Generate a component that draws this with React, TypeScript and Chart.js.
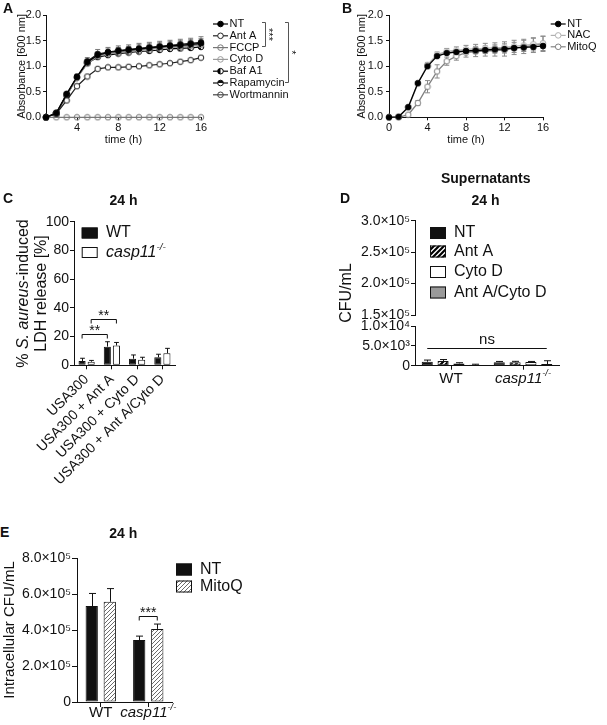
import React, { useEffect, useRef } from 'react';
import { Chart, registerables } from 'chart.js';

Chart.register(...registerables);

const FONT = "'Liberation Sans', Arial, Helvetica, sans-serif";
const INK = '#111111';

/* ---------------- Panel A data ---------------- */
const hoursA = [1, 2, 3, 4, 5, 6, 7, 8, 9, 10, 11, 12, 13, 14, 15, 16];
const timeTicksA = [4, 8, 12, 16];
const absTicks = [0, 0.5, 1, 1.5, 2];
const aNames = ['NT', 'Ant A', 'FCCP', 'Cyto D', 'Baf A1', 'Rapamycin', 'Wortmannin'];
const aNT = [0, 0.08, 0.45, 0.79, 1.08, 1.22, 1.27, 1.3, 1.32, 1.34, 1.36, 1.38, 1.4, 1.41, 1.43, 1.45];
const aAntA = [0, 0.07, 0.33, 0.61, 0.8, 0.95, 0.98, 0.98, 0.99, 1.0, 1.02, 1.04, 1.06, 1.09, 1.12, 1.17];
const aFCCP = [0, 0, 0, 0, 0, 0, 0, 0, 0, 0, 0, 0, 0, 0, 0, 0];
const aCytoD = [0, 0.07, 0.42, 0.77, 1.05, 1.2, 1.24, 1.27, 1.29, 1.31, 1.33, 1.35, 1.37, 1.38, 1.4, 1.42];
const aBafA1 = [0, 0.08, 0.43, 0.78, 1.06, 1.18, 1.22, 1.25, 1.27, 1.29, 1.3, 1.32, 1.34, 1.35, 1.36, 1.38];
const aRapamycin = [0, 0.09, 0.46, 0.8, 1.1, 1.24, 1.28, 1.31, 1.33, 1.35, 1.37, 1.39, 1.41, 1.43, 1.45, 1.47];
const aWortmannin = [0, 0.08, 0.44, 0.78, 1.07, 1.21, 1.25, 1.28, 1.3, 1.32, 1.34, 1.36, 1.38, 1.39, 1.41, 1.43];
const aErrNT = [0, 0.01, 0.02, 0.03, 0.05, 0.06, 0.07, 0.07, 0.07, 0.08, 0.08, 0.08, 0.08, 0.09, 0.09, 0.09];
const aErrAntA = [0, 0.01, 0.02, 0.02, 0.02, 0.02, 0.02, 0.02, 0.02, 0.02, 0.02, 0.02, 0.02, 0.02, 0.02, 0.03];
const aErrCytoD = [0, 0.01, 0.02, 0.03, 0.04, 0.05, 0.05, 0.05, 0.05, 0.06, 0.06, 0.06, 0.06, 0.06, 0.06, 0.07];
const aErrBafA1 = [0, 0.01, 0.02, 0.03, 0.04, 0.04, 0.05, 0.05, 0.05, 0.05, 0.05, 0.05, 0.05, 0.06, 0.06, 0.06];
const aErrRapamycin = [0, 0.01, 0.03, 0.03, 0.07, 0.09, 0.09, 0.09, 0.09, 0.1, 0.1, 0.1, 0.1, 0.1, 0.1, 0.11];
const aErrWortmannin = [0, 0.01, 0.02, 0.03, 0.05, 0.06, 0.06, 0.06, 0.07, 0.07, 0.07, 0.07, 0.07, 0.08, 0.08, 0.08];

/* ---------------- Panel B data ---------------- */
const hoursB = [0, 1, 2, 3, 4, 5, 6, 7, 8, 9, 10, 11, 12, 13, 14, 15, 16];
const timeTicksB = [0, 4, 8, 12, 16];
const bNames = ['NT', 'NAC', 'MitoQ'];
const bNT = [0, 0.01, 0.2, 0.67, 1.0, 1.2, 1.26, 1.28, 1.3, 1.31, 1.32, 1.33, 1.34, 1.36, 1.37, 1.38, 1.4];
const bNAC = [0, 0.01, 0.19, 0.66, 1.03, 1.23, 1.29, 1.31, 1.33, 1.34, 1.35, 1.36, 1.37, 1.39, 1.41, 1.43, 1.45];
const bMitoQ = [0, 0, 0.05, 0.28, 0.6, 0.9, 1.1, 1.2, 1.27, 1.29, 1.3, 1.31, 1.32, 1.35, 1.38, 1.41, 1.44];
const bErrNT = [0, 0, 0.01, 0.02, 0.03, 0.03, 0.03, 0.04, 0.04, 0.04, 0.04, 0.04, 0.05, 0.05, 0.05, 0.05, 0.05];
const bErrNAC = [0, 0, 0.02, 0.03, 0.04, 0.05, 0.06, 0.07, 0.08, 0.09, 0.1, 0.1, 0.11, 0.12, 0.12, 0.13, 0.14];
const bErrMitoQ = [0, 0.01, 0.02, 0.05, 0.12, 0.13, 0.08, 0.08, 0.09, 0.1, 0.1, 0.11, 0.12, 0.12, 0.13, 0.14, 0.15];

/* ---------------- Panel C data ---------------- */
const cGroups = ['USA300', 'USA300 + Ant A', 'USA300 + Cyto D', 'USA300 + Ant A/Cyto D'];
const cTicks = [0, 20, 40, 60, 80, 100];
const cWT = [3.0, 13.0, 4.6, 5.6];
const cWTErr = [1.9, 3.4, 2.6, 2.1];
const cCasp = [2.5, 13.8, 3.9, 8.4];
const cCaspErr = [0.9, 2.1, 1.7, 3.4];
const cSigWT = 21.8;
const cSigCasp = 32;

/* ---------------- Panel D data ---------------- */
const dGroups = ['WT', 'casp11-/-'];
const dNT = [1000, 900];
const dNTErr = [420, 170];
const dAntA = [1200, 900];
const dAntAErr = [350, 200];
const dCytoD = [580, 950];
const dCytoDErr = [170, 120];
const dAntACytoD = [250, 420];
const dAntACytoDErr = [120, 830];
const dUpperTicks = [150000, 200000, 250000, 300000];
const dUpperTickLabels = ['1.5×10⁵', '2.0×10⁵', '2.5×10⁵', '3.0×10⁵'];
const dLowerTicks = [0, 5000, 10000];
const dLowerTickLabels = ['0', '5.0×10³', '1.0×10⁴'];
const dNsLevel = 4500;

/* ---------------- Panel E data ---------------- */
const eGroups = ['WT', 'casp11-/-'];
const eNT = [533000, 344000];
const eNTErr = [70000, 22000];
const eMitoQ = [557000, 406000];
const eMitoQErr = [73000, 27000];
const eTicks = [0, 200000, 400000, 600000, 800000];
const eTickLabels = ['0', '2.0×10⁵', '4.0×10⁵', '6.0×10⁵', '8.0×10⁵'];
const eSigLevel = 478000;

/* ---------------- styles ---------------- */
type MK = 'filled' | 'open' | 'through' | 'halfLeft' | 'halfTop';
const aLook: { kind: MK; color: string }[] = [
  { kind: 'filled', color: '#000000' },
  { kind: 'open', color: '#222222' },
  { kind: 'through', color: '#777777' },
  { kind: 'through', color: '#9a9a9a' },
  { kind: 'halfLeft', color: '#000000' },
  { kind: 'halfTop', color: '#111111' },
  { kind: 'through', color: '#444444' },
];
const bLook: { kind: MK; color: string }[] = [
  { kind: 'filled', color: '#000000' },
  { kind: 'open', color: '#b0b0b0' },
  { kind: 'open', color: '#808080' },
];

type Seg = { t: string; it?: boolean; sup?: boolean; bold?: boolean };

function fontStr(size: number, it?: boolean, bold?: boolean) {
  return `${it ? 'italic ' : ''}${bold ? 'bold ' : ''}${size}px ${FONT}`;
}

function drawRich(ctx: CanvasRenderingContext2D, segs: Seg[], x: number, y: number, size: number, align: 'left' | 'center' | 'right', color = INK) {
  ctx.save();
  ctx.fillStyle = color;
  ctx.textBaseline = 'middle';
  ctx.textAlign = 'left';
  const widths = segs.map((s) => {
    ctx.font = fontStr(s.sup ? size * 0.62 : size, s.it, s.bold);
    return ctx.measureText(s.t).width;
  });
  const total = widths.reduce((a, b) => a + b, 0);
  let cx = align === 'center' ? x - total / 2 : align === 'right' ? x - total : x;
  segs.forEach((s, k) => {
    ctx.font = fontStr(s.sup ? size * 0.62 : size, s.it, s.bold);
    ctx.fillText(s.t, cx, s.sup ? y - size * 0.34 : y);
    cx += widths[k];
  });
  ctx.restore();
}

function labelSegs(label: string): Seg[] {
  if (label.startsWith('casp11')) return [{ t: 'casp11', it: true }, { t: '-/-', it: true, sup: true }];
  return [{ t: label }];
}

function drawMarker(ctx: CanvasRenderingContext2D, kind: MK, x: number, y: number, r: number, color: string) {
  ctx.save();
  ctx.lineWidth = 1;
  ctx.strokeStyle = color;
  const circle = () => {
    ctx.beginPath();
    ctx.arc(x, y, r, 0, Math.PI * 2);
  };
  if (kind === 'filled') {
    circle(); ctx.fillStyle = color; ctx.fill(); ctx.stroke();
  } else if (kind === 'open') {
    circle(); ctx.fillStyle = '#ffffff'; ctx.fill(); ctx.stroke();
  } else if (kind === 'through') {
    circle(); ctx.stroke();
  } else {
    circle(); ctx.fillStyle = '#ffffff'; ctx.fill();
    ctx.beginPath();
    if (kind === 'halfLeft') ctx.arc(x, y, r, Math.PI / 2, Math.PI * 1.5);
    else ctx.arc(x, y, r, Math.PI, Math.PI * 2);
    ctx.closePath(); ctx.fillStyle = color; ctx.fill();
    circle(); ctx.stroke();
  }
  ctx.restore();
}

function markerImg(kind: MK, color: string, r: number) {
  const s = Math.ceil(r * 2 + 2);
  const c = document.createElement('canvas');
  c.width = s; c.height = s;
  drawMarker(c.getContext('2d')!, kind, s / 2, s / 2, r, color);
  return c;
}

function stripes(bg: string, fg: string, size: number, lw: number) {
  const c = document.createElement('canvas');
  c.width = size; c.height = size;
  const g = c.getContext('2d')!;
  g.fillStyle = bg; g.fillRect(0, 0, size, size);
  g.strokeStyle = fg; g.lineWidth = lw;
  g.beginPath();
  g.moveTo(-1, size + 1); g.lineTo(size + 1, -1);
  g.moveTo(-size / 2 - 1, size / 2 + 1); g.lineTo(size / 2 + 1, -size / 2 - 1);
  g.moveTo(size / 2 - 1, size * 1.5 + 1); g.lineTo(size * 1.5 + 1, size / 2 - 1);
  g.stroke();
  return g.createPattern(c, 'repeat')!;
}

const fitW = (w: number) => (s: any) => { s.width = w; s.paddingTop = 0; s.paddingBottom = 0; s.paddingLeft = 0; s.paddingRight = 0; };
const fitH = (h: number) => (s: any) => { s.height = h; s.paddingTop = 0; s.paddingBottom = 0; s.paddingLeft = 0; s.paddingRight = 0; };
const setTicks = (vals: number[]) => (s: any) => { s.ticks = vals.map((v) => ({ value: v })); };

function axisStyle(size: number, tick: number, pad: number) {
  return {
    border: { display: true, color: INK, width: 1 },
    grid: { display: true, drawOnChartArea: false, drawTicks: true, tickLength: tick, tickColor: INK, tickWidth: 1, color: INK },
    ticks: { color: INK, padding: pad, font: { family: FONT, size } },
  };
}

function lineErrPlugin(errs: (number[] | null)[], color: string, both: boolean, id: string) {
  return {
    id,
    beforeDatasetsDraw(chart: any) {
      const ctx = chart.ctx as CanvasRenderingContext2D;
      const ys = chart.scales.y;
      ctx.save();
      ctx.strokeStyle = color;
      ctx.lineWidth = 1;
      chart.data.datasets.forEach((ds: any, i: number) => {
        const e = errs[i];
        if (!e) return;
        chart.getDatasetMeta(i).data.forEach((pt: any, j: number) => {
          const err = e[j];
          if (!err) return;
          const v = ds.data[j].y;
          const x = pt.x;
          const top = ys.getPixelForValue(v + err);
          const bot = both ? ys.getPixelForValue(v - err) : pt.y;
          ctx.beginPath();
          ctx.moveTo(x, bot); ctx.lineTo(x, top);
          ctx.moveTo(x - 2.5, top); ctx.lineTo(x + 2.5, top);
          if (both) { ctx.moveTo(x - 2.5, bot); ctx.lineTo(x + 2.5, bot); }
          ctx.stroke();
        });
      });
      ctx.restore();
    },
  };
}

function barErrPlugin(errs: number[][], id: string) {
  return {
    id,
    afterDatasetsDraw(chart: any) {
      const ctx = chart.ctx as CanvasRenderingContext2D;
      const ys = chart.scales.y;
      ctx.save();
      ctx.strokeStyle = INK;
      ctx.lineWidth = 1;
      errs.forEach((e, i) => {
        chart.getDatasetMeta(i).data.forEach((bar: any, j: number) => {
          const v = chart.data.datasets[i].data[j];
          const top = ys.getPixelForValue(v + e[j]);
          const cap = Math.min(3.5, bar.width / 3);
          const x = Math.round(bar.x) + 0.5;
          ctx.beginPath();
          ctx.moveTo(x, bar.y); ctx.lineTo(x, top);
          ctx.moveTo(x - cap, top); ctx.lineTo(x + cap, top);
          ctx.stroke();
        });
      });
      ctx.restore();
    },
  };
}

function lineLegend(ctx: CanvasRenderingContext2D, chart: any, looks: { kind: MK; color: string }[], x0: number, y0: number, dy: number, size: number) {
  chart.data.datasets.forEach((ds: any, k: number) => {
    const y = y0 + k * dy;
    const lk = looks[k];
    ctx.save();
    ctx.strokeStyle = lk.color; ctx.lineWidth = 1.2;
    ctx.beginPath(); ctx.moveTo(x0, y); ctx.lineTo(x0 + 15, y); ctx.stroke();
    ctx.restore();
    drawMarker(ctx, lk.kind, x0 + 7.5, y, 2.8, lk.color);
    drawRich(ctx, [{ t: ds.label }], x0 + 16.5, y, size, 'left');
  });
}

function boxLegend(ctx: CanvasRenderingContext2D, chart: any, x: number, ys: number[], w: number, h: number, textX: number, size: number) {
  chart.data.datasets.forEach((ds: any, k: number) => {
    const y = ys[k];
    ctx.save();
    ctx.fillStyle = ds.backgroundColor;
    ctx.fillRect(x, y - h / 2, w, h);
    ctx.strokeStyle = INK; ctx.lineWidth = 1;
    ctx.strokeRect(x + 0.5, y - h / 2 + 0.5, w - 1, h - 1);
    ctx.restore();
    drawRich(ctx, labelSegs(ds.label), textX, y, size, 'left');
  });
}

function bracket(ctx: CanvasRenderingContext2D, x1: number, x2: number, y: number, drop: number, label: string, size: number) {
  ctx.save();
  ctx.strokeStyle = INK; ctx.lineWidth = 1;
  const yy = Math.round(y) + 0.5;
  ctx.beginPath();
  ctx.moveTo(x1, yy + drop); ctx.lineTo(x1, yy); ctx.lineTo(x2, yy); ctx.lineTo(x2, yy + drop);
  ctx.stroke();
  ctx.restore();
  drawRich(ctx, [{ t: label }], (x1 + x2) / 2, yy - 3, size, 'center');
}

const baseOpts = {
  responsive: false,
  animation: false as const,
  events: [] as any[],
  plugins: { legend: { display: false }, tooltip: { enabled: false } },
};

const Txt = (p: { x: number; base: number; size: number; bold?: boolean; center?: boolean; children: React.ReactNode }) => (
  <div
    style={{
      position: 'absolute',
      left: p.center ? p.x - 150 : p.x,
      width: p.center ? 300 : undefined,
      top: p.base - 0.8465 * p.size,
      fontSize: p.size,
      lineHeight: `${p.size}px`,
      fontWeight: p.bold ? 700 : 400,
      fontFamily: FONT,
      textAlign: p.center ? 'center' : 'left',
      whiteSpace: 'nowrap',
      color: INK,
    }}
  >
    {p.children}
  </div>
);

export default function App() {
  const rA = useRef<HTMLCanvasElement>(null);
  const rB = useRef<HTMLCanvasElement>(null);
  const rC = useRef<HTMLCanvasElement>(null);
  const rDu = useRef<HTMLCanvasElement>(null);
  const rDl = useRef<HTMLCanvasElement>(null);
  const rE = useRef<HTMLCanvasElement>(null);

  useEffect(() => {
    Chart.defaults.font.family = FONT;
    Chart.defaults.color = INK;
    const charts: Chart[] = [];
    const antAPattern = stripes('#ffffff', '#000000', 5, 2.2);
    const mitoPattern = stripes('#ffffff', '#6a6a6a', 4, 1);

    /* ---------- A ---------- */
    const aSeries = [aNT, aAntA, aFCCP, aCytoD, aBafA1, aRapamycin, aWortmannin];
    const aErrs = [aErrNT, aErrAntA, null, aErrCytoD, aErrBafA1, aErrRapamycin, aErrWortmannin];
    const axA = axisStyle(11, 3, 2);
    charts.push(new Chart(rA.current!, {
      type: 'line',
      data: {
        datasets: aSeries.map((ys, i) => ({
          label: aNames[i],
          data: hoursA.map((x, k) => ({ x, y: ys[k] })),
          borderColor: aLook[i].color,
          borderWidth: 1.2,
          pointStyle: markerImg(aLook[i].kind, aLook[i].color, 2.8) as any,
          pointRadius: 3,
          clip: false as any,
          tension: 0,
        })),
      },
      options: {
        ...baseOpts,
        layout: { padding: { top: 15.3, left: 0, right: 109, bottom: 0 } },
        scales: {
          x: {
            type: 'linear', min: 1, max: 16,
            afterBuildTicks: setTicks(timeTicksA), afterFit: fitH(32.7),
            border: axA.border, grid: axA.grid,
            ticks: { ...axA.ticks, padding: 1, callback: (v: any) => String(v) },
            title: { display: true, text: 'time (h)', color: INK, font: { size: 11 }, padding: { top: 0, bottom: 3.4 } },
          },
          y: {
            min: 0, max: 2,
            afterBuildTicks: setTicks(absTicks), afterFit: fitW(46),
            border: axA.border, grid: axA.grid,
            ticks: { ...axA.ticks, callback: (v: any) => Number(v).toFixed(1) },
            title: { display: true, text: 'Absorbance [600 nm]', color: INK, font: { size: 11 }, padding: { top: 15.4, bottom: 0 } },
          },
        } as any,
      } as any,
      plugins: [
        lineErrPlugin(aErrs, '#7a7a7a', false, 'errA'),
        {
          id: 'extrasA',
          afterDraw(chart: any) {
            const ctx = chart.ctx as CanvasRenderingContext2D;
            lineLegend(ctx, chart, aLook, 213, 24, 11.8, 11);
            ctx.save();
            ctx.strokeStyle = '#555'; ctx.lineWidth = 1;
            ctx.beginPath();
            ctx.moveTo(262, 22.5); ctx.lineTo(265.5, 22.5); ctx.lineTo(265.5, 46.5); ctx.lineTo(262, 46.5);
            ctx.moveTo(285, 22.5); ctx.lineTo(288.5, 22.5); ctx.lineTo(288.5, 82.5); ctx.lineTo(285, 82.5);
            ctx.stroke();
            ctx.fillStyle = INK; ctx.font = fontStr(11);
            ctx.textAlign = 'center'; ctx.textBaseline = 'middle';
            ctx.translate(268, 34.5); ctx.rotate(Math.PI / 2); ctx.fillText('***', 0, 0);
            ctx.restore();
            ctx.save();
            ctx.fillStyle = INK; ctx.font = fontStr(11);
            ctx.textAlign = 'center'; ctx.textBaseline = 'middle';
            ctx.translate(291, 52.5); ctx.rotate(Math.PI / 2); ctx.fillText('*', 0, 0);
            ctx.restore();
          },
        },
      ],
    }));

    /* ---------- B ---------- */
    const bSeries = [bNT, bNAC, bMitoQ];
    const bErrs = [bErrNT, bErrNAC, bErrMitoQ];
    const axB = axisStyle(11, 3, 3);
    charts.push(new Chart(rB.current!, {
      type: 'line',
      data: {
        datasets: bSeries.map((ys, i) => ({
          label: bNames[i],
          data: hoursB.map((x, k) => ({ x, y: ys[k] })),
          borderColor: bLook[i].color,
          borderWidth: 1.3,
          pointStyle: markerImg(bLook[i].kind, bLook[i].color, 2.8) as any,
          pointRadius: 3,
          clip: false as any,
          tension: 0,
        })),
      },
      options: {
        ...baseOpts,
        layout: { padding: { top: 15.3, left: 0, right: 64, bottom: 0 } },
        scales: {
          x: {
            type: 'linear', min: 0, max: 16,
            afterBuildTicks: setTicks(timeTicksB), afterFit: fitH(32.7),
            border: axB.border, grid: axB.grid,
            ticks: { ...axB.ticks, padding: 1, callback: (v: any) => String(v) },
            title: { display: true, text: 'time (h)', color: INK, font: { size: 11 }, padding: { top: 0, bottom: 3.4 } },
          },
          y: {
            min: 0, max: 2,
            afterBuildTicks: setTicks(absTicks), afterFit: fitW(89),
            border: axB.border, grid: axB.grid,
            ticks: { ...axB.ticks, callback: (v: any) => Number(v).toFixed(1) },
            title: { display: true, text: 'Absorbance [600 nm]', color: INK, font: { size: 11 }, padding: { top: 55.1, bottom: 0 } },
          },
        } as any,
      } as any,
      plugins: [
        lineErrPlugin(bErrs, '#8a8a8a', true, 'errB'),
        {
          id: 'extrasB',
          afterDraw(chart: any) {
            lineLegend(chart.ctx, chart, bLook, 250.7, 24, 11.4, 11);
          },
        },
      ],
    }));

    /* ---------- C ---------- */
    const axC = axisStyle(14, 4, 1);
    charts.push(new Chart(rC.current!, {
      type: 'bar',
      data: {
        labels: cGroups,
        datasets: [
          { label: 'WT', data: cWT, backgroundColor: '#111111', borderColor: INK, borderWidth: 1, borderSkipped: false, categoryPercentage: 0.72, barPercentage: 0.78 },
          { label: 'casp11-/-', data: cCasp, backgroundColor: '#ffffff', borderColor: INK, borderWidth: 1, borderSkipped: false, categoryPercentage: 0.72, barPercentage: 0.78 },
        ],
      },
      options: {
        ...baseOpts,
        layout: { padding: { top: 31.7, left: 0, right: 25, bottom: 0 } },
        scales: {
          x: {
            afterFit: fitH(124.7),
            border: axC.border,
            grid: { ...axC.grid, offset: false },
            ticks: { ...axC.ticks, padding: 2, minRotation: 45, maxRotation: 45, autoSkip: false },
          },
          y: {
            min: 0, max: 100,
            afterBuildTicks: setTicks(cTicks), afterFit: fitW(74),
            border: axC.border, grid: axC.grid, ticks: axC.ticks,
          },
        } as any,
      } as any,
      plugins: [
        barErrPlugin([cWTErr, cCaspErr], 'errC'),
        {
          id: 'extrasC',
          afterDraw(chart: any) {
            const ctx = chart.ctx as CanvasRenderingContext2D;
            const ys = chart.scales.y;
            const m0 = chart.getDatasetMeta(0).data;
            const m1 = chart.getDatasetMeta(1).data;
            bracket(ctx, m0[0].x, m0[1].x, ys.getPixelForValue(cSigWT), 4, '**', 14);
            bracket(ctx, m1[0].x, m1[1].x, ys.getPixelForValue(cSigCasp), 4, '**', 14);
            boxLegend(ctx, chart, 81.7, [43, 62.5], 16, 11, 106, 16);
            const cy = (chart.chartArea.top + chart.chartArea.bottom) / 2;
            ctx.save();
            ctx.translate(23.5, cy); ctx.rotate(-Math.PI / 2);
            drawRich(ctx, [{ t: '% ' }, { t: 'S. aureus', it: true }, { t: '-induced' }], 0, 0, 16, 'center');
            ctx.restore();
            ctx.save();
            ctx.translate(42, cy); ctx.rotate(-Math.PI / 2);
            drawRich(ctx, [{ t: 'LDH release [%]' }], 0, 0, 16, 'center');
            ctx.restore();
          },
        },
      ],
    }));

    /* ---------- D (upper segment) ---------- */
    const axD = axisStyle(14, 4, 1);
    charts.push(new Chart(rDu.current!, {
      type: 'bar',
      data: { labels: dGroups, datasets: [] },
      options: {
        ...baseOpts,
        layout: { padding: { top: 20.7, left: 0, right: 48, bottom: 85 } },
        scales: {
          x: { display: false },
          y: {
            min: 150000, max: 300000,
            afterBuildTicks: setTicks(dUpperTicks), afterFit: fitW(115),
            border: axD.border, grid: axD.grid,
            ticks: { ...axD.ticks, callback: (_v: any, i: number) => dUpperTickLabels[i] },
          },
        } as any,
      } as any,
      plugins: [
        {
          id: 'extrasDu',
          afterDraw(chart: any) {
            const ctx = chart.ctx as CanvasRenderingContext2D;
            ctx.save();
            ctx.translate(46.7, 93); ctx.rotate(-Math.PI / 2);
            drawRich(ctx, [{ t: 'CFU/mL' }], 0, 0, 16, 'center');
            ctx.restore();
          },
        },
      ],
    }));

    /* ---------- D (lower segment with bars) ---------- */
    const dLegend = [
      { label: 'NT', fill: '#111111' },
      { label: 'Ant A', fill: antAPattern },
      { label: 'Cyto D', fill: '#ffffff' },
      { label: 'Ant A/Cyto D', fill: '#9a9a9a' },
    ];
    const dVals = [dNT, dAntA, dCytoD, dAntACytoD];
    charts.push(new Chart(rDl.current!, {
      type: 'bar',
      data: {
        labels: dGroups,
        datasets: dVals.map((vals, i) => ({
          label: dLegend[i].label, data: vals, backgroundColor: dLegend[i].fill as any,
          borderColor: INK, borderWidth: 1, borderSkipped: false, categoryPercentage: 0.88, barPercentage: 0.7,
        })),
      },
      options: {
        ...baseOpts,
        layout: { padding: { top: 6, left: 0, right: 48, bottom: 0 } },
        scales: {
          x: {
            afterFit: fitH(34.3),
            border: axD.border, grid: { ...axD.grid, offset: false },
            ticks: { ...axD.ticks, display: false },
          },
          y: {
            min: 0, max: 10000,
            afterBuildTicks: setTicks(dLowerTicks), afterFit: fitW(115),
            border: axD.border, grid: axD.grid,
            ticks: { ...axD.ticks, callback: (_v: any, i: number) => dLowerTickLabels[i] },
          },
        } as any,
      } as any,
      plugins: [
        barErrPlugin([dNTErr, dAntAErr, dCytoDErr, dAntACytoDErr], 'errD'),
        {
          id: 'extrasDl',
          afterDraw(chart: any) {
            const ctx = chart.ctx as CanvasRenderingContext2D;
            const xs = chart.scales.x;
            const ys = chart.scales.y;
            const first = chart.getDatasetMeta(0).data[0];
            const last = chart.getDatasetMeta(3).data[1];
            const y = Math.round(ys.getPixelForValue(dNsLevel)) + 0.5;
            ctx.save();
            ctx.strokeStyle = INK; ctx.lineWidth = 1;
            ctx.beginPath(); ctx.moveTo(first.x, y); ctx.lineTo(last.x, y); ctx.stroke();
            ctx.restore();
            drawRich(ctx, [{ t: 'ns' }], (first.x + last.x) / 2, y - 8.7, 15, 'center');
            chart.data.labels.forEach((lab: string, i: number) => {
              drawRich(ctx, labelSegs(lab), xs.getPixelForValue(i), chart.chartArea.bottom + 13, 15, 'center');
            });
          },
        },
      ],
    }));

    /* ---------- D legend (drawn on upper canvas area) ---------- */
    {
      const up = charts[3] as any;
      const low = charts[4] as any;
      const legendPlugin = {
        id: 'legendD',
        afterDraw(chart: any) {
          boxLegend(chart.ctx, low, 130, [33, 51.5, 72, 92.5], 16, 12, 154, 16);
        },
      };
      up.config.plugins.push(legendPlugin);
      up.update();
    }

    /* ---------- E ---------- */
    const axE = axisStyle(14, 5, 1);
    charts.push(new Chart(rE.current!, {
      type: 'bar',
      data: {
        labels: eGroups,
        datasets: [
          { label: 'NT', data: eNT, backgroundColor: '#111111', borderColor: INK, borderWidth: 1, borderSkipped: false, categoryPercentage: 0.76, barPercentage: 0.68 },
          { label: 'MitoQ', data: eMitoQ, backgroundColor: mitoPattern as any, borderColor: INK, borderWidth: 1, borderSkipped: false, categoryPercentage: 0.76, barPercentage: 0.68 },
        ],
      },
      options: {
        ...baseOpts,
        layout: { padding: { top: 18, left: 0, right: 88, bottom: 0 } },
        scales: {
          x: {
            afterFit: fitH(23),
            border: axE.border, grid: { ...axE.grid, offset: false },
            ticks: { ...axE.ticks, display: false },
          },
          y: {
            min: 0, max: 800000,
            afterBuildTicks: setTicks(eTicks), afterFit: fitW(77),
            border: axE.border, grid: axE.grid,
            ticks: { ...axE.ticks, callback: (_v: any, i: number) => eTickLabels[i] },
            title: { display: true, text: 'Intracellular CFU/mL', color: INK, font: { size: 15 }, padding: { top: 1, bottom: 0 } },
          },
        } as any,
      } as any,
      plugins: [
        barErrPlugin([eNTErr, eMitoQErr], 'errE'),
        {
          id: 'extrasE',
          afterDraw(chart: any) {
            const ctx = chart.ctx as CanvasRenderingContext2D;
            const xs = chart.scales.x;
            const ys = chart.scales.y;
            const a = chart.getDatasetMeta(0).data[1];
            const b = chart.getDatasetMeta(1).data[1];
            bracket(ctx, a.x, b.x, ys.getPixelForValue(eSigLevel), 4, '***', 14);
            boxLegend(ctx, chart, 176, [29.5, 46.5], 16, 12, 200, 16);
            chart.data.labels.forEach((lab: string, i: number) => {
              drawRich(ctx, labelSegs(lab), xs.getPixelForValue(i), chart.chartArea.bottom + 10.7, 15, 'center');
            });
          },
        },
      ],
    }));

    return () => charts.forEach((c) => c.destroy());
  }, []);

  const cv = (left: number, top: number): React.CSSProperties => ({ position: 'absolute', left, top });

  return (
    <div style={{ position: 'absolute', left: 0, top: 0, width: 607, height: 725, background: '#ffffff', overflow: 'hidden', fontFamily: FONT }}>
      <canvas ref={rA} width={310} height={150} style={cv(0, 0)} />
      <canvas ref={rB} width={307} height={150} style={cv(300, 0)} />
      <canvas ref={rC} width={200} height={300} style={cv(0, 190)} />
      <canvas ref={rDu} width={307} height={200} style={cv(300, 200)} />
      <canvas ref={rDl} width={307} height={80} style={cv(300, 320)} />
      <canvas ref={rE} width={260} height={185} style={cv(0, 540)} />

      <Txt x={3} base={13} size={14} bold>A</Txt>
      <Txt x={342} base={13.3} size={14} bold>B</Txt>
      <Txt x={3} base={203} size={14} bold>C</Txt>
      <Txt x={340} base={203} size={14} bold>D</Txt>
      <Txt x={0} base={537} size={14} bold>E</Txt>

      <Txt x={123.5} base={205} size={14} bold center>24 h</Txt>
      <Txt x={485.7} base={183.3} size={14} bold center>Supernatants</Txt>
      <Txt x={485.5} base={204.5} size={14} bold center>24 h</Txt>
      <Txt x={123.3} base={538} size={14} bold center>24 h</Txt>
    </div>
  );
}
